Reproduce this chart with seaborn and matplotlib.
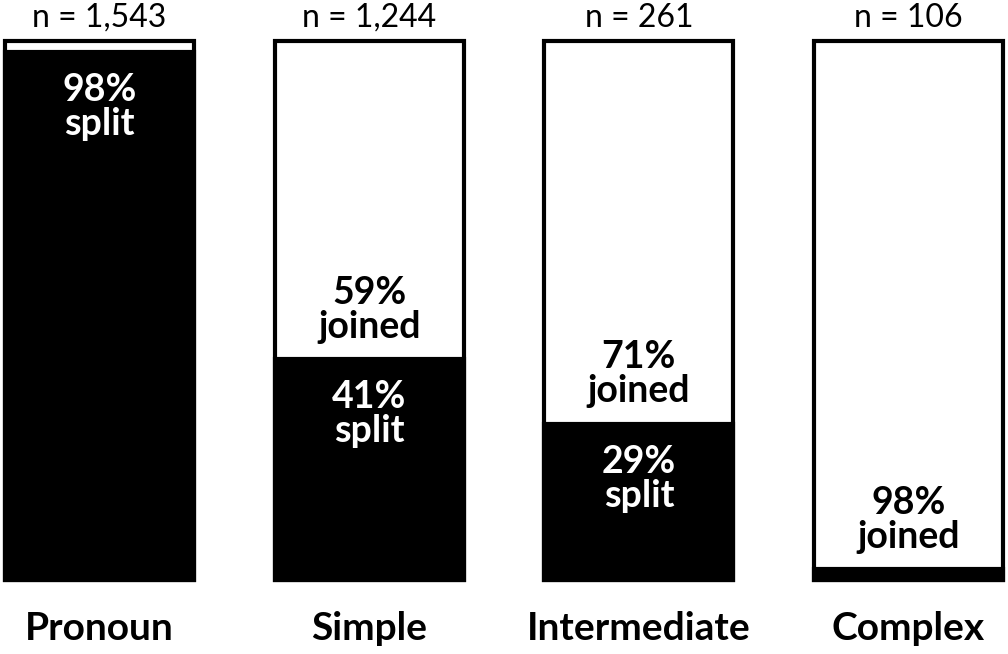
import matplotlib
matplotlib.use('Agg')
import matplotlib.pyplot as plt
import seaborn as sns
import pandas as pd

# 데이터
categories = ['Pronoun', 'Simple', 'Intermediate', 'Complex']
counts = ['1,543', '1,244', '261', '106']
split_pct = [98, 41, 29, 2]
joined_pct = [2, 59, 71, 98]
split_labels = ['98%\nsplit', '41%\nsplit', '29%\nsplit', '']
joined_labels = ['', '59%\njoined', '71%\njoined', '98%\njoined']

df = pd.DataFrame({'category': categories, 'split': split_pct,
                   'total': [s + j for s, j in zip(split_pct, joined_pct)]})

sns.set_style('white')
plt.rcParams['font.family'] = ['Lato', 'DejaVu Sans']
plt.rcParams['text.color'] = 'black'

fig = plt.figure(figsize=(10.08, 6.54), dpi=100)
ax = fig.add_axes([0, 0, 1, 1])

# 전체 막대 (흰색) + split 막대 (검정)
sns.barplot(data=df, x='category', y='total', color='white', edgecolor='black',
            linewidth=3, width=0.7, saturation=1, ax=ax)
sns.barplot(data=df, x='category', y='split', color='black', edgecolor='black',
            linewidth=3, width=0.7, saturation=1, ax=ax)

ax.set_xlim(-0.369, 3.369)
ax.set_ylim(-13.73, 107.6)
ax.axis('off')

for i, cat in enumerate(categories):
    s = split_pct[i]
    if split_labels[i]:
        ax.annotate(split_labels[i], (i, s), xytext=(0, -15), textcoords='offset points',
                    ha='center', va='top', color='white', fontsize=27,
                    fontweight='bold', linespacing=1.0)
    if joined_labels[i]:
        ax.annotate(joined_labels[i], (i, s), xytext=(0, 11), textcoords='offset points',
                    ha='center', va='bottom', color='black', fontsize=27,
                    fontweight='bold', linespacing=1.0)
    ax.text(i, 104.3, 'n = ' + counts[i], ha='center', va='center', fontsize=23)
    ax.text(i, -9.0, cat, ha='center', va='center', fontsize=28, fontweight='bold')

fig.savefig('out.png', dpi=100)
